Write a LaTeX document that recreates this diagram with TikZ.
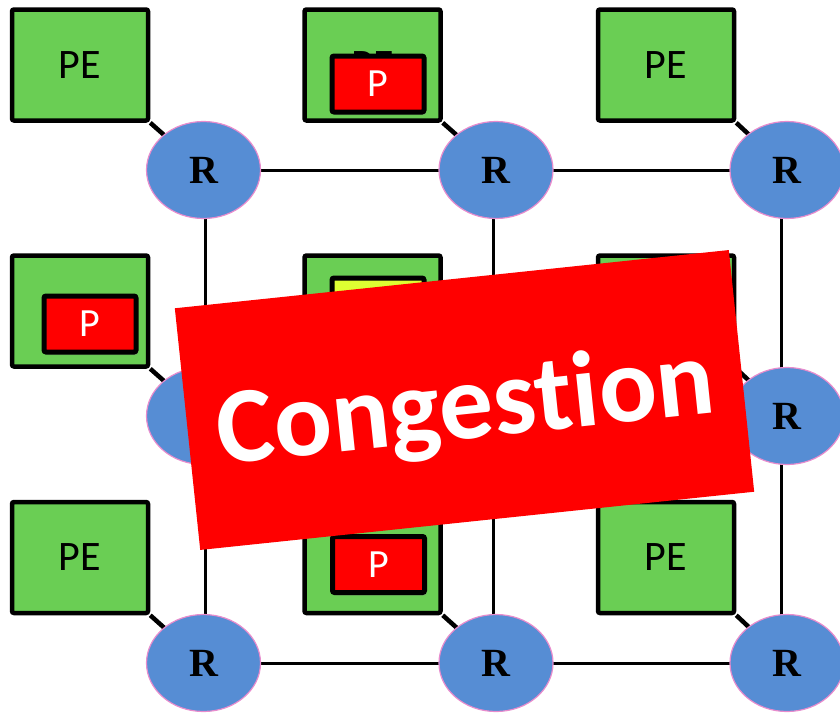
\documentclass[tikz,border=0pt]{standalone}
\usepackage{fontspec}
\setmainfont{Carlito}[Ligatures={NoCommon,NoRare,NoContextual}]
\newfontfamily\rfont{Liberation Serif}
\usetikzlibrary{shadows,shapes.geometric}
\definecolor{pegreen}{RGB}{106,206,84}
\definecolor{rblue}{RGB}{86,141,212}
\definecolor{rpink}{RGB}{232,140,205}
\definecolor{pyellow}{RGB}{222,255,50}
\tikzset{
  pebox/.style={draw=black, line width=4.5pt, fill=pegreen, rounded corners=2pt,
    minimum width=136pt, minimum height=111pt, inner sep=0pt,
    font=\fontsize{42}{42}\selectfont},
  pkt/.style={draw=black, line width=5pt, fill=red, rounded corners=2pt,
    minimum width=92pt, minimum height=56pt, inner sep=0pt, text=white,
    font=\fontsize{40}{40}\selectfont,
    drop shadow={opacity=0.35, shadow xshift=2pt, shadow yshift=-3pt}},
  router/.style={ellipse, draw=rpink, line width=1.2pt, fill=rblue,
    minimum width=114pt, minimum height=97pt, inner sep=0pt,
    font=\rfont\bfseries\fontsize{40}{40}\selectfont},
  link/.style={line width=3pt, black},
  banner/.style={fill=red, rotate=6, minimum width=557pt, minimum height=243pt,
    inner sep=0pt},
  bannertext/.style={rotate=6, inner sep=0pt, text=white,
    font=\bfseries\fontsize{108}{108}\selectfont}
}
\begin{document}
\begin{tikzpicture}[x=1pt,y=-1pt]
\useasboundingbox (0,0) rectangle (840,712);
% routers positions
\coordinate (c11) at (203.5,170);
\coordinate (c12) at (496,170);
\coordinate (c13) at (787,170);
\coordinate (c21) at (203.5,416);
\coordinate (c22) at (496,416);
\coordinate (c23) at (787,416);
\coordinate (c31) at (203.5,663);
\coordinate (c32) at (496,663);
\coordinate (c33) at (787,663);
% PE boxes
\node[pebox] (pe11) at (80,65) {PE};
\node[pebox] (pe12) at (372.5,65) {PE};
\node[pebox] (pe13) at (666,65) {PE};
\node[pebox] (pe21) at (80,311) {PE};
\node[pebox] (pe22) at (372.5,311) {PE};
\node[pebox] (pe23) at (666,311) {PE};
\node[pebox] (pe31) at (80,557.5) {PE};
\node[pebox] (pe32) at (372.5,557.5) {PE};
\node[pebox] (pe33) at (666,557.5) {PE};
% links (drawn before routers)
\draw[link] (c11) -- (c12) -- (c13);
\draw[link] (c31) -- (c32) -- (c33);
\draw[link] (c21) -- (c22) -- (c23);
\draw[link] ([xshift=1.5pt]c11) -- ([xshift=1.5pt]c31);
\draw[link] ([xshift=-3pt]c12) -- ([xshift=-3pt]c32);
\draw[link] ([xshift=-6pt]c13) -- ([xshift=-6pt]c33);
\foreach \i in {1,2,3}{\foreach \j in {1,2,3}{
  \draw[line width=4.5pt] (pe\i\j.south east) -- (c\i\j);}}
% routers
\foreach \i in {1,2,3}{\foreach \j in {1,2,3}{
  \node[router] (r\i\j) at (c\i\j) {R};}}
% packets
\node[pkt] (p12) at (378,84) {P};
\node[pkt] (p21) at (90,324) {P};
\node[pkt, fill=pyellow] (p22) at (378,306) {};
\node[pkt] (p32) at (378.5,564.5) {P};
% banner
\node[banner] (ban) at (464.5,400) {};
\node[bannertext] (bantxt) at (466,410) {Congestion};
\end{tikzpicture}
\end{document}
